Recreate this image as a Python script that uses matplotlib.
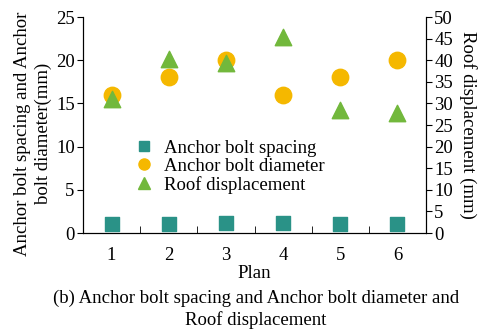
import numpy as np
import matplotlib.pyplot as plt
from matplotlib.lines import Line2D

plt.rcParams['font.family'] = ['Liberation Serif', 'DejaVu Serif']
plt.rcParams['font.size'] = 13.5

plans = [1, 2, 3, 4, 5, 6]
spacing = [1.0, 1.0, 1.2, 1.2, 1.0, 1.0]
diameter = [16, 18, 20, 16, 18, 20]
roof_disp = [31, 40.2, 39.3, 45.4, 28.5, 27.7]

c_sq = '#2a9287'
c_ci = '#f5b800'
c_tr = '#72b83c'

fig = plt.figure(figsize=(4.81, 3.31), dpi=100)
ax = fig.add_axes([83/481, 1-233/331, (426-83)/481, (233-17)/331])
ax2 = ax.twinx()

ax.scatter(plans, spacing, marker='s', s=110, color=c_sq, zorder=3)
ax.scatter(plans, diameter, marker='o', s=140, color=c_ci, zorder=3)
ax2.scatter(plans, roof_disp, marker='^', s=140, color=c_tr, zorder=4)

ax.set_xlim(0.5, 6.5)
ax.set_ylim(0, 25)
ax2.set_ylim(0, 50)
ax.set_xticks(plans)
ax.set_xticks(np.arange(1.5, 6, 1), minor=True)
ax.tick_params(axis='x', which='major', length=0, pad=10)
ax.tick_params(axis='x', which='minor', direction='in', length=5)
ax.set_yticks(np.arange(0, 26, 5))
ax2.set_yticks(np.arange(0, 51, 5))
ax.tick_params(axis='y', direction='out', length=4, pad=2)
ax2.tick_params(axis='y', direction='out', length=4, pad=2)
for a in (ax, ax2):
    a.spines['top'].set_visible(False)

ax.set_xlabel('Plan', labelpad=1)
ax.set_ylabel('Anchor bolt spacing and Anchor\nbolt diameter(mm)', linespacing=1.3)
ax.yaxis.set_label_coords(-31/343, 0.46)
ax2.set_ylabel('Roof displacement (mm)', rotation=270, labelpad=17)

handles = [
    Line2D([], [], ls='', marker='s', ms=7, color=c_sq),
    Line2D([], [], ls='', marker='o', ms=8, color=c_ci),
    Line2D([], [], ls='', marker='^', ms=8, color=c_tr),
]
labels = ['Anchor bolt spacing', 'Anchor bolt diameter', 'Roof displacement']
ax2.legend(handles, labels, loc='upper left', bbox_to_anchor=(0.075, 0.51),
           frameon=False, handletextpad=0.05, labelspacing=0.05, fontsize=13.5)

fig.text(256/481, 1-298/331, '(b) Anchor bolt spacing and Anchor bolt diameter and',
         ha='center', va='center')
fig.text(256/481, 1-320/331, 'Roof displacement', ha='center', va='center')

fig.savefig('out.png', dpi=100)
